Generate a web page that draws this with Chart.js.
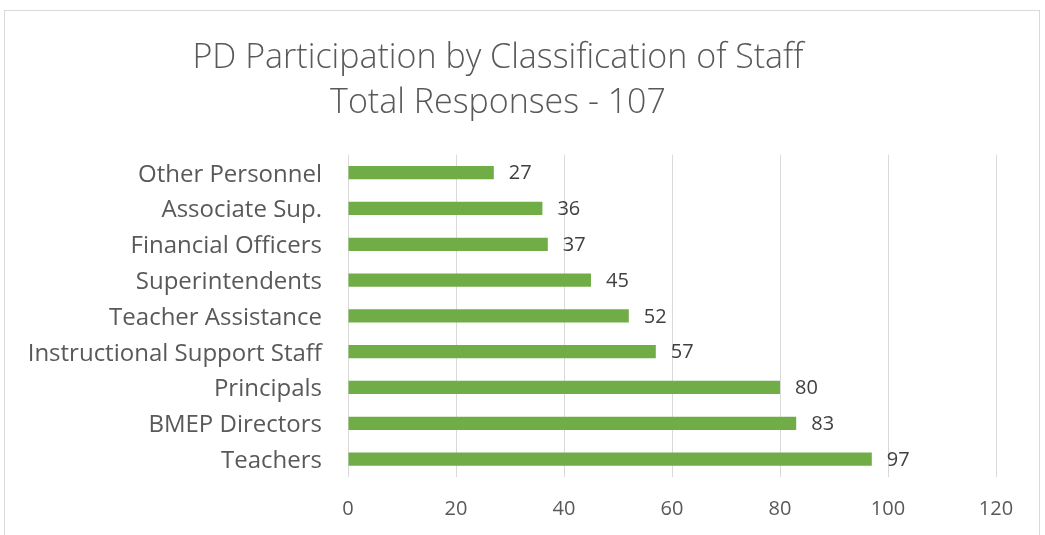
<!DOCTYPE html>
<html>
<head>
<meta charset="utf-8">
<script src="https://cdn.jsdelivr.net/npm/chart.js@4"></script>
<style>
  html, body { margin: 0; padding: 0; background: #ffffff; }
  #wrap { position: relative; width: 1045px; height: 535px; overflow: hidden; }
  #frame { position: absolute; left: 4px; top: 10px; width: 1036px; height: 540px; border: 1.5px solid #d9d9d9; box-sizing: border-box; }
  canvas { position: absolute; left: 0; top: 0; }
</style>
</head>
<body>
<div id="wrap">
  <div id="frame"></div>
  <canvas id="c" width="1045" height="535"></canvas>
</div>
<script>
const categories = ["Other Personnel", "Associate Sup.", "Financial Officers", "Superintendents", "Teacher Assistance", "Instructional Support Staff", "Principals", "BMEP Directors", "Teachers"];
const participants = [27, 36, 37, 45, 52, 57, 80, 83, 97];
const titleLines = ["PD Participation by Classification of Staff", "Total Responses - 107"];
const xTicks = [0, 20, 40, 60, 80, 100, 120];

const FONT = "'Open Sans', Lato, sans-serif";

const valueLabels = {
  id: 'valueLabels',
  afterDatasetsDraw(chart) {
    const ctx = chart.ctx;
    const meta = chart.getDatasetMeta(0);
    ctx.save();
    ctx.font = "20px " + FONT;
    ctx.fillStyle = "#404040";
    ctx.textAlign = "left";
    ctx.textBaseline = "middle";
    meta.data.forEach((bar, i) => {
      ctx.fillText(String(chart.data.datasets[0].data[i]), bar.x + 15, bar.y + 1);
    });
    ctx.restore();
  }
};

new Chart(document.getElementById('c'), {
  type: 'bar',
  data: {
    labels: categories,
    datasets: [{
      data: participants,
      backgroundColor: '#70ad47',
      borderWidth: 0,
      categoryPercentage: 1,
      barPercentage: 0.37
    }]
  },
  options: {
    indexAxis: 'y',
    responsive: false,
    animation: false,
    layout: { padding: { left: 0, right: 49, top: 0, bottom: 0 } },
    plugins: {
      legend: { display: false },
      tooltip: { enabled: false },
      title: {
        display: true,
        text: titleLines,
        color: '#595959',
        font: { family: FONT, size: 34, weight: 300, lineHeight: 1.32 },
        padding: { top: 36, bottom: 29 }
      }
    },
    scales: {
      x: {
        min: 0, max: 120,
        afterBuildTicks(axis) { axis.ticks = xTicks.map(v => ({ value: v })); },
        afterFit(axis) { axis.height = 58; },
        grid: { color: '#d9d9d9', lineWidth: 1, drawTicks: false },
        border: { display: false },
        ticks: { color: '#595959', font: { family: FONT, size: 20 }, padding: 20 }
      },
      y: {
        afterFit(axis) { axis.width = 348; },
        grid: { display: false, drawTicks: false },
        border: { display: false },
        ticks: { color: '#595959', font: { family: FONT, size: 24 }, padding: 26, labelOffset: 2 }
      }
    }
  },
  plugins: [valueLabels]
});
</script>
</body>
</html>
